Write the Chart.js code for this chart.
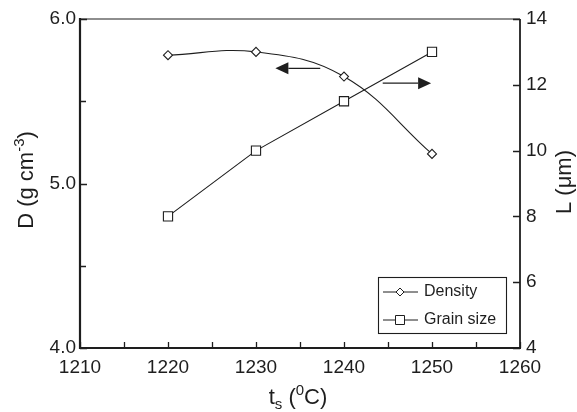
<!DOCTYPE html>
<html><head><meta charset="utf-8">
<script src="https://cdn.jsdelivr.net/npm/chart.js@4"></script>
<style>html,body{margin:0;padding:0;background:#fff}canvas{display:block}</style>
</head><body>
<canvas id="c" width="577" height="412"></canvas>
<script>
// ---- data ----
const temperatures = [1220, 1230, 1240, 1250];
const density = [5.78, 5.80, 5.65, 5.18];
const grainSize = [8, 10, 11.5, 13];
const xTicks = [1210, 1220, 1230, 1240, 1250, 1260];
const xMinorTicks = [1215, 1225, 1235, 1245, 1255];
const dTicks = [4.0, 5.0, 6.0];
const dMinorTicks = [4.5, 5.5];
const lTicks = [4, 6, 8, 10, 12, 14];
const seriesNames = ['Density', 'Grain size'];
// arrows telling which axis each curve belongs to (x from -> x to, at a value on an axis)
const arrows = [
  {from: 1237.3, to: 1232.2, value: 5.70, axis: 'y'},
  {from: 1244.4, to: 1249.9, value: 12.05, axis: 'y2'}
];

const INK = '#1e1e1e';
const FONT = '"Liberation Sans", Arial, Helvetica, sans-serif';

function runs(ctx, parts, x, y, align) {
  let total = 0;
  parts.forEach(p => { ctx.font = p.size + 'px ' + FONT; total += ctx.measureText(p.t).width; });
  let cx = align === 'center' ? x - total / 2 : x;
  parts.forEach(p => {
    ctx.font = p.size + 'px ' + FONT;
    ctx.fillText(p.t, cx, y + (p.dy || 0));
    cx += ctx.measureText(p.t).width;
  });
}

const decor = {
  id: 'decor',
  afterDraw(chart) {
    const ctx = chart.ctx;
    const a = chart.chartArea;
    const sx = chart.scales.x, sy = chart.scales.y, sy2 = chart.scales.y2;
    ctx.save();
    ctx.strokeStyle = INK; ctx.fillStyle = INK;
    // frame
    ctx.lineWidth = 1.2;
    ctx.beginPath(); ctx.moveTo(a.left, a.top); ctx.lineTo(a.right, a.top); ctx.stroke();
    ctx.lineWidth = 1.8;
    ctx.beginPath(); ctx.moveTo(a.right, a.top); ctx.lineTo(a.right, a.bottom); ctx.stroke();
    ctx.lineWidth = 2.2;
    ctx.beginPath(); ctx.moveTo(a.left, a.top - 1); ctx.lineTo(a.left, a.bottom); ctx.lineTo(a.right + 1, a.bottom); ctx.stroke();
    // ticks (inward)
    ctx.lineWidth = 1.3;
    ctx.beginPath();
    xTicks.concat(xMinorTicks).forEach(v => { const px = Math.round(sx.getPixelForValue(v)) + 0.5; ctx.moveTo(px, a.bottom); ctx.lineTo(px, a.bottom - 6); });
    dTicks.forEach(v => { const py = Math.round(sy.getPixelForValue(v)) + 0.5; ctx.moveTo(a.left, py); ctx.lineTo(a.left + 7, py); });
    dMinorTicks.forEach(v => { const py = Math.round(sy.getPixelForValue(v)) + 0.5; ctx.moveTo(a.left, py); ctx.lineTo(a.left + 6, py); });
    lTicks.forEach(v => { const py = Math.round(sy2.getPixelForValue(v)) + 0.5; ctx.moveTo(a.right, py); ctx.lineTo(a.right - 7, py); });
    ctx.stroke();
    // arrows
    arrows.forEach(ar => {
      const sc = chart.scales[ar.axis];
      const y = sc.getPixelForValue(ar.value);
      const x0 = sx.getPixelForValue(ar.from), x1 = sx.getPixelForValue(ar.to);
      const dir = Math.sign(x1 - x0);
      const head = 13, half = 6;
      ctx.lineWidth = 1.3;
      ctx.beginPath(); ctx.moveTo(x0, y); ctx.lineTo(x1 - dir * head, y); ctx.stroke();
      ctx.beginPath(); ctx.moveTo(x1, y); ctx.lineTo(x1 - dir * head, y - half); ctx.lineTo(x1 - dir * head, y + half); ctx.closePath(); ctx.fill();
    });
    // legend
    const lx = 378, ly = 277, lw = 128, lh = 56;
    ctx.lineWidth = 1.1;
    ctx.strokeRect(lx + 0.5, ly + 0.5, lw, lh);
    const ds = chart.data.datasets;
    [292, 320].forEach((yy, i) => {
      ctx.lineWidth = 1;
      ctx.beginPath(); ctx.moveTo(383, yy); ctx.lineTo(418, yy); ctx.stroke();
      ctx.fillStyle = '#fff';
      ctx.beginPath();
      if (ds[i].pointStyle === 'rectRot') {
        ctx.moveTo(400, yy - 4); ctx.lineTo(404, yy); ctx.lineTo(400, yy + 4); ctx.lineTo(396, yy); ctx.closePath();
      } else {
        ctx.rect(395.5, yy - 4.5, 9, 9);
      }
      ctx.fill(); ctx.stroke();
      ctx.fillStyle = INK;
      ctx.font = '16px ' + FONT; ctx.textAlign = 'left'; ctx.textBaseline = 'middle';
      ctx.fillText(seriesNames[i], 424, yy);
    });
    // axis titles
    ctx.textBaseline = 'alphabetic'; ctx.textAlign = 'left';
    runs(ctx, [{t: 't', size: 22}, {t: 's', size: 15, dy: 5}, {t: ' (', size: 22}, {t: '0', size: 15, dy: -9}, {t: 'C)', size: 22}], 298, 404, 'center');
    ctx.save();
    ctx.translate(33, 180); ctx.rotate(-Math.PI / 2);
    runs(ctx, [{t: 'D (g cm', size: 22}, {t: '-3', size: 15, dy: -9}, {t: ')', size: 22}], 0, 0, 'center');
    ctx.restore();
    ctx.save();
    ctx.translate(571, 182); ctx.rotate(-Math.PI / 2);
    runs(ctx, [{t: 'L (\u03bcm)', size: 22}], 0, 0, 'center');
    ctx.restore();
    ctx.restore();
  }
};

const tickFont = {family: FONT, size: 19};
new Chart(document.getElementById('c'), {
  type: 'line',
  data: {
    datasets: [
      {label: seriesNames[0], data: temperatures.map((t, i) => ({x: t, y: density[i]})), yAxisID: 'y',
       borderColor: INK, borderWidth: 1.1, tension: 0.4, pointStyle: 'rectRot', pointRadius: 4.5,
       pointBackgroundColor: '#fff', pointBorderColor: INK, pointBorderWidth: 1.1, clip: false},
      {label: seriesNames[1], data: temperatures.map((t, i) => ({x: t, y: grainSize[i]})), yAxisID: 'y2',
       borderColor: INK, borderWidth: 1.1, tension: 0, pointStyle: 'rect', pointRadius: 6.5,
       pointBackgroundColor: '#fff', pointBorderColor: INK, pointBorderWidth: 1.1, clip: false}
    ]
  },
  options: {
    responsive: false, animation: false, events: [],
    layout: {padding: {top: 19, left: 0, right: 0, bottom: 0}},
    plugins: {legend: {display: false}, tooltip: {enabled: false}},
    scales: {
      x: {type: 'linear', min: 1210, max: 1260,
          afterBuildTicks: s => { s.ticks = xTicks.map(v => ({value: v})); },
          ticks: {padding: 8, font: tickFont, color: INK, maxRotation: 0, autoSkip: false, callback: v => String(v)},
          grid: {display: false, drawTicks: false}, border: {display: false},
          afterFit: s => { s.height = 64; }},
      y: {position: 'left', min: 4, max: 6,
          afterBuildTicks: s => { s.ticks = dTicks.map(v => ({value: v})); },
          ticks: {padding: 4, font: tickFont, color: INK, callback: v => Number(v).toFixed(1)},
          grid: {display: false, drawTicks: false}, border: {display: false},
          afterFit: s => { s.width = 80; }},
      y2: {position: 'right', min: 4, max: 14,
          afterBuildTicks: s => { s.ticks = lTicks.map(v => ({value: v})); },
          ticks: {padding: 6, font: tickFont, color: INK, callback: v => String(v)},
          grid: {display: false, drawTicks: false}, border: {display: false},
          afterFit: s => { s.width = 57; }}
    }
  },
  plugins: [decor]
});
</script>
</body></html>
